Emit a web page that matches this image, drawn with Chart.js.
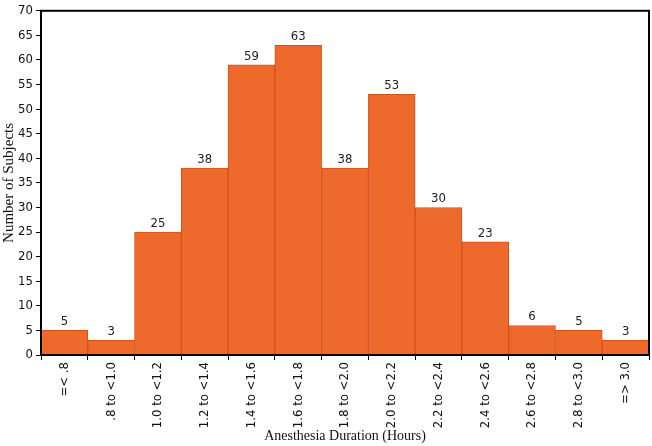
<!DOCTYPE html>
<html>
<head>
<meta charset="utf-8">
<script src="https://cdn.jsdelivr.net/npm/chart.js@4/dist/chart.umd.min.js"></script>
<style>
  body { margin: 0; background: #fff; }
  #wrap { width: 652px; height: 446px; }
</style>
</head>
<body>
<div id="wrap"><canvas id="myChart"></canvas></div>
<script>
// categories and counts
let durationBins = ["=< .8", ".8 to <1.0", "1.0 to <1.2", "1.2 to <1.4", "1.4 to <1.6", "1.6 to <1.8",
    "1.8 to <2.0", "2.0 to <2.2", "2.2 to <2.4", "2.4 to <2.6", "2.6 to <2.8", "2.8 to <3.0", "=> 3.0"];
let subjectCounts = [5, 3, 25, 38, 59, 63, 38, 53, 30, 23, 6, 5, 3];
let yMin = 0;
let yMax = 70;
let yStep = 5;

let popCanvas = document.getElementById("myChart");
let tickFont = '"DejaVu Sans Condensed", "DejaVu Sans", sans-serif';

// value labels above each bar
let barLabels = {
    id: 'barLabels',
    afterDatasetsDraw(chart) {
        let ctx = chart.ctx;
        let meta = chart.getDatasetMeta(0);
        ctx.save();
        ctx.font = '13px ' + tickFont;
        ctx.fillStyle = '#222';
        ctx.textAlign = 'center';
        ctx.textBaseline = 'bottom';
        meta.data.forEach((bar, i) => {
            ctx.fillText(subjectCounts[i], bar.x, bar.y - 2);
        });
        ctx.restore();
    }
};

// black frame round the plot area
let plotFrame = {
    id: 'plotFrame',
    afterDraw(chart) {
        let a = chart.chartArea;
        let ctx = chart.ctx;
        ctx.save();
        ctx.strokeStyle = '#000';
        ctx.lineWidth = 2;
        ctx.strokeRect(a.left, a.top, a.right - a.left, a.bottom - a.top);
        ctx.restore();
    }
};

let barChart = new Chart(popCanvas, {
    type: 'bar',
    data: {
        labels: durationBins,
        datasets: [{
            label: 'Number of Subjects',
            data: subjectCounts,
            backgroundColor: '#EE6A2C',
            borderColor: '#D4501C',
            borderWidth: 1,
            categoryPercentage: 1.0,
            barPercentage: 1.0
        }]
    },
    options: {
        responsive: true,
        maintainAspectRatio: false,
        animation: false,
        layout: { padding: { top: 5, right: 3, left: 0, bottom: 0 } },
        plugins: {
            legend: { display: false },
            tooltip: { enabled: false }
        },
        scales: {
            x: {
                grid: { offset: true, drawOnChartArea: false, drawTicks: true, tickLength: 5, color: '#000', lineWidth: 1 },
                border: { color: '#000', width: 2 },
                ticks: {
                    color: '#111',
                    font: { family: tickFont, size: 13 },
                    minRotation: 90,
                    maxRotation: 90,
                    padding: 2,
                    autoSkip: false
                },
                title: {
                    display: true,
                    text: 'Anesthesia Duration (Hours)',
                    color: '#111',
                    font: { family: '"Liberation Serif"', size: 14 },
                    padding: { top: 0, bottom: 1 }
                },
                afterFit(scale) { scale.height = 91; }
            },
            y: {
                min: yMin,
                max: yMax,
                grid: { drawOnChartArea: false, drawTicks: true, tickLength: 5, color: '#000', lineWidth: 1 },
                border: { color: '#000', width: 2 },
                ticks: {
                    stepSize: yStep,
                    color: '#111',
                    font: { family: tickFont, size: 13 },
                    padding: 3
                },
                title: {
                    display: true,
                    text: 'Number of Subjects',
                    color: '#111',
                    font: { family: '"Liberation Serif"', size: 15 },
                    padding: { top: 0, bottom: 0 }
                },
                afterFit(scale) { scale.width = 41; }
            }
        }
    },
    plugins: [barLabels, plotFrame]
});
</script>
</body>
</html>
